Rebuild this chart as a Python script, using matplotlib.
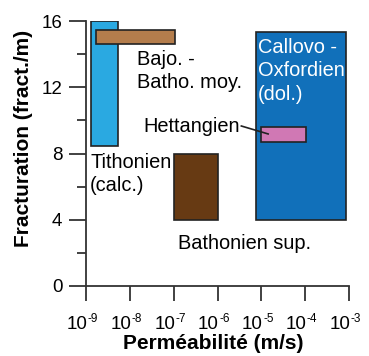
import matplotlib
matplotlib.use("Agg")
from matplotlib import pyplot as plt
from matplotlib.patches import Rectangle

plt.rcParams['font.family'] = ['Liberation Sans', 'DejaVu Sans']

# formations: permeabilite (min, max) en m/s, fracturation (min, max) en fract./m
names = ['Tithonien', 'Bajo-Batho moy', 'Bathonien sup', 'Callovo-Oxfordien', 'Hettangien']
k_min = [1.28e-9, 1.7e-9, 1.0e-7, 7.6e-6, 1.0e-5]
k_max = [5.4e-9, 1.07e-7, 1.0e-6, 8.5e-4, 1.04e-4]
f_min = [8.45, 14.63, 4.0, 4.0, 8.69]
f_max = [16.0, 15.44, 8.0, 15.32, 9.6]
colors = ['#2AA9E1', '#B47D4C', '#673A13', '#1170BA', '#D078B4']

x_ticks = [1e-9, 1e-8, 1e-7, 1e-6, 1e-5, 1e-4, 1e-3]
x_exp = ['-9', '-8', '-7', '-6', '-5', '-4', '-3']
y_ticks = [0, 4, 8, 12, 16]
y_minor = [2, 6, 10, 14]

fig = plt.figure(figsize=(3.69, 3.56), dpi=100)
ax = fig.add_axes([86/369, 70/356, 263/369, 265/356])
ax.set_xscale('log')
ax.set_xlim(1e-9, 1e-3)
ax.set_ylim(0, 16)

for i in range(len(names)):
    r = Rectangle((k_min[i], f_min[i]), k_max[i] - k_min[i], f_max[i] - f_min[i],
                  facecolor=colors[i], edgecolor='#222222', linewidth=1.2, zorder=2)
    ax.add_patch(r)

# etiquettes
fs = 14.4
ls = 1.3
ax.text(1.25e-9, 8.05, 'Tithonien\n(calc.)', fontsize=fs, va='top', ha='left', linespacing=ls)
ax.text(1.45e-8, 14.25, 'Bajo. -\nBatho. moy.', fontsize=fs, va='top', ha='left', linespacing=ls)
ax.text(1.24e-7, 3.15, 'Bathonien sup.', fontsize=fs, va='top', ha='left')
ax.text(8.2e-6, 15.0, 'Callovo -\nOxfordien\n(dol.)', fontsize=fs, va='top', ha='left',
        color='white', linespacing=ls, zorder=3)
ax.text(3.3e-6, 9.62, 'Hettangien', fontsize=fs, va='center', ha='right')
ax.plot([3.5e-6, 1.43e-5], [9.66, 9.18], color='#222222', linewidth=1.2, zorder=4)

for s in ['top', 'right']:
    ax.spines[s].set_visible(False)
for s in ['left', 'bottom']:
    ax.spines[s].set_linewidth(1.3)
    ax.spines[s].set_color('#333333')

# graduations x : 10 + exposant, dessines a la main
ax.set_xticks(x_ticks)
ax.set_xticklabels([])
ax.xaxis.set_minor_locator(matplotlib.ticker.NullLocator())
for x, e in zip(x_ticks, x_exp):
    ax.annotate('10', xy=(x, 0), xycoords=('data', 'axes fraction'), xytext=(1.0, -31),
                textcoords='offset points', ha='right', va='baseline', fontsize=13.5,
                annotation_clip=False)
    ax.annotate(e, xy=(x, 0), xycoords=('data', 'axes fraction'), xytext=(1.3, -25.6),
                textcoords='offset points', ha='left', va='baseline', fontsize=8.5,
                annotation_clip=False)

ax.set_yticks(y_ticks)
ax.set_yticks(y_minor, minor=True)
ax.tick_params(axis='x', which='major', direction='out', length=11, width=1.3, color='#333333')
ax.tick_params(axis='y', which='major', direction='out', length=12, width=1.3,
               color='#333333', labelsize=13.5, pad=5)
ax.tick_params(axis='y', which='minor', direction='out', length=6.2, width=1.3, color='#333333')

ax.set_xlabel('Perméabilité (m/s)', fontsize=15, fontweight='bold', va='baseline')
ax.set_ylabel('Fracturation (fract./m)', fontsize=15, fontweight='bold', va='baseline')
ax.xaxis.set_label_coords(0.484, -0.238)
ax.yaxis.set_label_coords(-0.217, 0.557)

fig.savefig('out.png', dpi=100)
